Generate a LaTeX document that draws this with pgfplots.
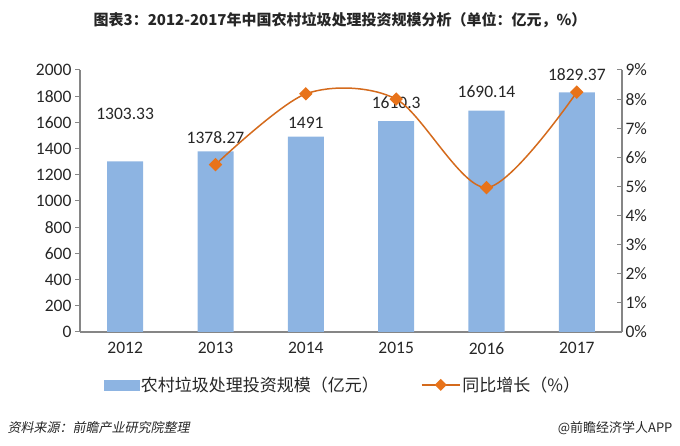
\documentclass[border=0pt]{standalone}
\usepackage{pgfplots}
\usepackage{pgfplotstable}
\pgfplotsset{compat=1.18}
\usepackage{fontspec}
\setmainfont{Carlito}
\newfontfamily\cjk{Noto Sans CJK SC}
\newfontfamily\cjkit{Noto Sans CJK SC}[FakeSlant=0.2]

\definecolor{barblue}{HTML}{8DB4E2}
\definecolor{lineorange}{HTML}{D46A1C}
\definecolor{markorange}{HTML}{E8731A}
\definecolor{axisgray}{HTML}{868686}
\definecolor{txt}{HTML}{262626}

% investment (100 million yuan), label offset above bar top (pt)
\pgfplotstableread{
x val dy
0 1303.33 47
1 1378.27 13.5
2 1491 13.7
3 1610.3 18
4 1690.14 18.6
5 1829.37 17.4
}\invest

\begin{document}
\begin{tikzpicture}
\path[use as bounding box] (0,0) rectangle (680pt,446pt);
\node[font=\cjk\bfseries\fontsize{15}{18}\selectfont, text=txt] at (340pt,426pt)
    {图表3：2012-2017年中国农村垃圾处理投资规模分析（单位：亿元，\%）};

\pgfplotsset{base/.style={
    at={(80pt,114pt)}, anchor=south west, scale only axis,
    width=542pt, height=262pt, xmin=-0.5, xmax=5.5,
    tick label style={font=\fontsize{17.5}{20}\selectfont, text=txt},
    /pgf/number format/assume math mode=true,
    axis line style={axisgray, line width=1.2pt},
    major tick style={axisgray, line width=1pt},
    major tick length=5pt}}

\begin{axis}[base, ybar, bar width=36pt,
    ymin=0, ymax=2000, ytick={0,200,...,2000},
    axis y line*=left, axis x line*=bottom, tick align=outside,
    xtick={0,...,5}, xticklabels={2012,2013,2014,2015,2016,2017},
    x tick style={draw=none},
    xticklabel style={yshift=-2pt},
    yticklabel style={/pgf/number format/1000 sep={}},
    visualization depends on={\thisrow{dy} \as \labdy},
    nodes near coords={\pgfmathprintnumber[fixed,precision=2,1000 sep={}]{\pgfplotspointmeta}},
    every node near coord/.append style={anchor=center, yshift=\labdy pt,
        font=\fontsize{17.5}{20}\selectfont, text=txt}]
\addplot[fill=barblue, draw=none] table[x=x, y=val] {\invest};
\end{axis}

\begin{axis}[base, ymin=0, ymax=9, ytick={0,...,9},
    axis y line*=right, axis x line=none, tick align=inside,
    yticklabel={\pgfmathprintnumber{\tick}\%},
    legend style={at={(0.485,-0.202)}, anchor=center, draw=none, fill=none,
        legend columns=2, font=\cjk\fontsize{17}{20}\selectfont, text=txt,
        /tikz/every even column/.append style={column sep=40pt}}]
\addlegendimage{legend image code/.code={\fill[barblue] (0pt,-5pt) rectangle (35pt,5pt);}}
\addlegendentry{农村垃圾处理投资规模（亿元）}
\addplot[lineorange, line width=1.5pt, smooth,
    mark=square*, mark size=4pt, mark options={rotate=45, fill=markorange, draw=markorange},
    legend image code/.code={
        \draw[lineorange, line width=1.5pt] (0pt,0pt) -- (38pt,0pt);
        \fill[markorange, rotate around={45:(19pt,0pt)}] (15.5pt,-3.5pt) rectangle (22.5pt,3.5pt);}]
    coordinates {(1,5.75) (2,8.18) (3,8.00) (4,4.96) (5,8.24)};
\addlegendentry{同比增长（\%）}
\end{axis}

\node[anchor=west, font=\cjkit\fontsize{13}{15}\selectfont, text=txt] at (4pt,18pt) {资料来源：前瞻产业研究院整理};
\node[anchor=east, font=\cjk\fontsize{13}{15}\selectfont, text=txt] at (676pt,18pt) {@前瞻经济学人APP};
\end{tikzpicture}
\end{document}
